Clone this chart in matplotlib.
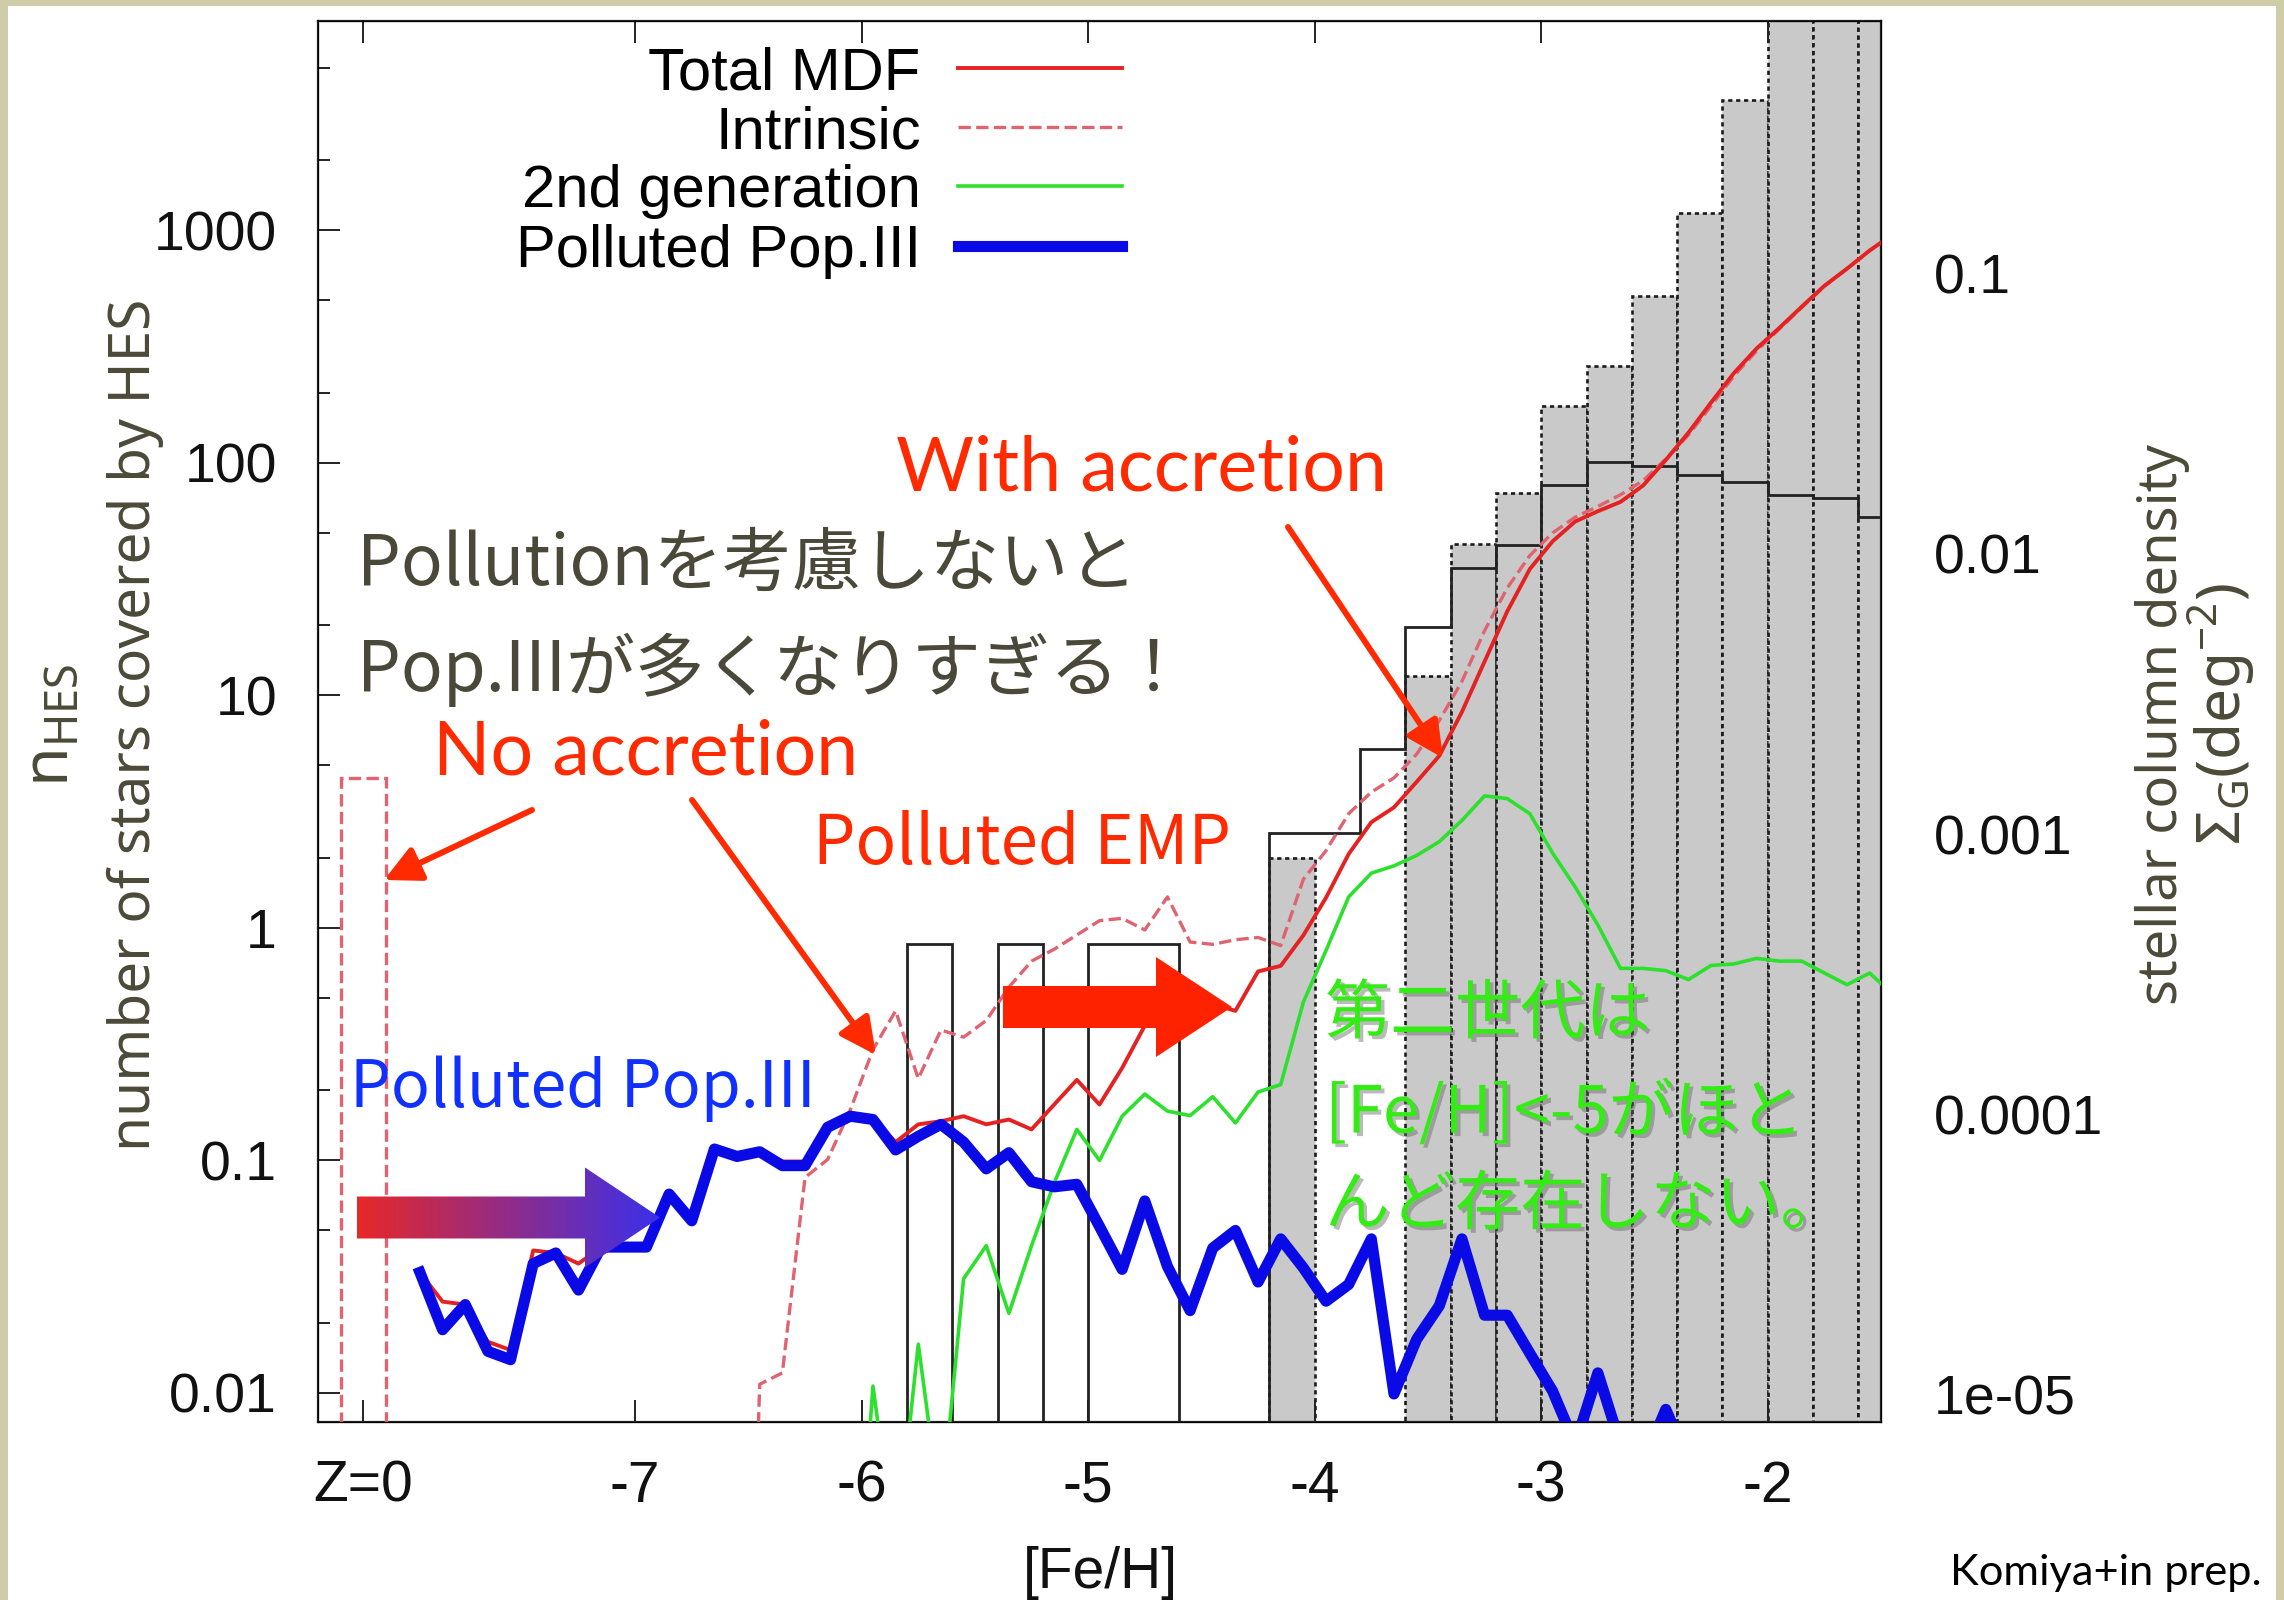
import numpy as np
import matplotlib
matplotlib.use("Agg")
import matplotlib.pyplot as plt
import matplotlib.patches as patches
import matplotlib.patheffects as pe
from matplotlib.colors import LinearSegmentedColormap
from matplotlib.ticker import LogLocator, NullFormatter, NullLocator

W, H = 2284, 1600
N = np.nan

plt.rcParams['font.family'] = ['Liberation Sans', 'Noto Sans CJK JP', 'DejaVu Sans']

# ---------------- data ----------------
# model curves, [Fe/H] bin centres
feh = [-7.95, -7.85, -7.75, -7.65, -7.55, -7.45, -7.35, -7.25, -7.15, -7.05,
       -6.95, -6.85, -6.75, -6.65, -6.55, -6.45, -6.35, -6.25, -6.15, -6.05,
       -5.95, -5.85, -5.75, -5.65, -5.55, -5.45, -5.35, -5.25, -5.15, -5.05,
       -4.95, -4.85, -4.75, -4.65, -4.55, -4.45, -4.35, -4.25, -4.15, -4.05,
       -3.95, -3.85, -3.75, -3.65, -3.55, -3.45, -3.35, -3.25, -3.15, -3.05,
       -2.95, -2.85, -2.75, -2.65, -2.55, -2.45, -2.35, -2.25, -2.15, -2.05,
       -1.95, -1.85, -1.75, -1.65, -1.55, -1.45]

total_mdf = [0.033, 0.0247, 0.024, 0.0166, 0.0153, 0.041, 0.040, 0.036, 0.0424, 0.0424,
             0.0424, 0.0717, 0.056, 0.113, 0.105, 0.111, 0.099, 0.099, 0.140, 0.156,
             0.152, 0.120, 0.143, 0.1475, 0.155, 0.143, 0.150, 0.136, 0.174, 0.222,
             0.174, 0.25, 0.38, 0.40, 0.43, 0.47, 0.44, 0.65, 0.687, 0.93,
             1.35, 2.08, 2.85, 3.3, 4.25, 5.5, 8.5, 14, 23, 35,
             46, 56, 62, 68, 80, 103, 135, 182, 243, 310,
             380, 470, 578, 685, 820, 960]

intrinsic = [N, N, N, N, N, N, N, N, N, N,
             N, N, N, N, 1e-5, 0.0109, 0.0122, 0.0845, 0.101, 0.165,
             0.30, 0.44, 0.225, 0.364, 0.339, 0.40, 0.556, 0.72, 0.81, 0.933,
             1.075, 1.10, 0.98, 1.36, 0.87, 0.85, 0.89, 0.91, 0.84, 1.62,
             2.15, 3.1, 3.84, 4.42, 5.59, 7.8, 11.5, 19, 29, 40,
             50, 58.5, 65, 73, 84, 104, 132, 176, 236, 303,
             376, 466, 575, 685, 820, 960]

second_gen = [N, N, N, N, N, N, N, N, N, N,
              N, N, N, N, N, N, N, N, N, 5e-4,
              0.0107, 0.002, 0.0162, 0.003, 0.031, 0.043, 0.022, 0.043, 0.08, 0.136,
              0.10, 0.155, 0.193, 0.163, 0.156, 0.188, 0.145, 0.197, 0.212, 0.48,
              0.80, 1.36, 1.72, 1.85, 2.05, 2.35, 2.9, 3.7, 3.6, 3.1,
              2.1, 1.5, 1.03, 0.67, 0.67, 0.655, 0.60, 0.69, 0.70, 0.74,
              0.72, 0.72, 0.64, 0.57, 0.64, 0.52]

pop3 = [0.033, 0.0187, 0.024, 0.0151, 0.0139, 0.036, 0.040, 0.0277, 0.0424, 0.0424,
        0.0424, 0.0717, 0.055, 0.112, 0.104, 0.109, 0.095, 0.095, 0.139, 0.155,
        0.150, 0.111, 0.127, 0.143, 0.120, 0.092, 0.108, 0.081, 0.077, 0.079,
        0.052, 0.034, 0.067, 0.035, 0.0226, 0.042, 0.050, 0.030, 0.046, 0.0345,
        0.0248, 0.0293, 0.046, 0.0099, 0.017, 0.0237, 0.046, 0.0216, 0.0216, 0.0148,
        0.0102, 0.006, 0.0122, 0.006, 0.005, 0.0085, 0.005, N, N, N,
        N, N, N, N, N, N]

# Z=0 bin of the intrinsic MDF
z0_edges = [-8.3, -8.1]
z0_intrinsic = [4.4]

# observed HES histogram (solid steps)
hes_edges = [-5.8, -5.6, -5.4, -5.2, -5.0, -4.8, -4.6, -4.4, -4.2, -4.0, -3.8, -3.6,
             -3.4, -3.2, -3.0, -2.8, -2.6, -2.4, -2.2, -2.0, -1.8, -1.6, -1.4]
hes_counts = [0.85, 0, 0.85, 0, 0.85, 0.85, 0, 0, 2.57, 2.57, 5.9,
              19.7, 35.2, 44.4, 80, 101, 97, 88.5, 82.8, 72.6, 70.4, 58.3]

# grey histogram (dotted boxes)
sigma_edges = [-4.2, -4.0, -3.8, -3.6, -3.4, -3.2, -3.0, -2.8, -2.6, -2.4, -2.2,
               -2.0, -1.8, -1.6, -1.4]
sigma_counts = [2.0, 0, 0, 12.1, 45, 74, 176, 261, 520, 1190, 3650, 10000, 25000, 50000]

xtick_pos = [-8.2, -7, -6, -5, -4, -3, -2]
xtick_labels = ['Z=0', '-7', '-6', '-5', '-4', '-3', '-2']
ytick_pos = [0.01, 0.1, 1, 10, 100, 1000]
ytick_labels = ['0.01', '0.1', '1', '10', '100', '1000']
y2tick_pos = [1e-5, 1e-4, 1e-3, 1e-2, 1e-1]
y2tick_labels = ['1e-05', '0.0001', '0.001', '0.01', '0.1']

# ---------------- styles ----------------
BEIGE = '#cfcca9'
RED = '#e42222'
PINK = '#e06470'
GREEN = '#2ee02e'
BLUE = '#0a0ae6'
ANN_RED = '#ff2a00'
ANN_BLUE = '#1030ff'
ANN_GREEN = '#33ec14'
DARK = '#4a4838'
LBL = '#4b4937'
JP = ['Noto Sans CJK JP', 'DejaVu Sans']

fig = plt.figure(figsize=(W / 100, H / 100), dpi=100, facecolor=BEIGE)
fig.add_artist(patches.Rectangle((8 / W, 0), (2276 - 8) / W, 1 - 6 / H,
                                 transform=fig.transFigure, facecolor='white',
                                 edgecolor='none', zorder=-5))

ax = fig.add_axes([318 / W, 1 - 1422 / H, (1881 - 318) / W, (1422 - 20.5) / H])
ax.set_yscale('log')

ax.bar(sigma_edges[:-1], sigma_counts, width=np.diff(sigma_edges), align='edge',
       color='#c9c9c9', edgecolor='#1a1a1a', linestyle=(0, (1.6, 1.4)), linewidth=1.9,
       zorder=1)
ax.stairs(hes_counts, hes_edges, color='#222222', linewidth=2.0, zorder=2)
ax.stairs(z0_intrinsic, z0_edges, color=PINK, linestyle='--', linewidth=2.4, zorder=3)

l_int, = ax.plot(feh, intrinsic, color=PINK, ls='--', lw=2.4, zorder=3)
l_2nd, = ax.plot(feh, second_gen, color=GREEN, lw=2.6, zorder=3.5)
l_tot, = ax.plot(feh, total_mdf, color=RED, lw=2.8, zorder=4)
l_p3, = ax.plot(feh, pop3, color=BLUE, lw=8, zorder=5)

ax.set_xlim(-8.4, -1.5)
ax.set_ylim(0.0075, 8000)

ax.set_xticks(xtick_pos, labels=xtick_labels)
ax.xaxis.set_minor_locator(NullLocator())
ax.set_yticks(ytick_pos, labels=ytick_labels)
ax.yaxis.set_minor_locator(LogLocator(base=10, subs=(2.0, 5.0)))
ax.yaxis.set_minor_formatter(NullFormatter())
ax.tick_params(which='both', direction='in', width=1.4, color='#222222', labelcolor='#111111')
ax.tick_params(axis='x', which='major', length=15.8, top=True, labelsize=41, pad=27)
ax.tick_params(axis='y', which='major', length=15.8, right=False, labelsize=40, pad=29.5)
ax.tick_params(axis='y', which='minor', length=8.6, right=False)
for s in ax.spines.values():
    s.set_linewidth(1.6)
    s.set_color('#222222')

ax2 = ax.twinx()
ax2.set_yscale('log')
ax2.set_ylim(8e-6, 0.8)
ax2.set_yticks(y2tick_pos, labels=y2tick_labels)
ax2.yaxis.set_minor_locator(NullLocator())
ax2.tick_params(axis='y', length=0, pad=38, labelsize=40, labelcolor='#111111')
ax.tick_params(axis='y', which='both', right=False)

# overlay in reference pixel coordinates for slide annotations
ov = fig.add_axes([0, 0, 1, 1], zorder=10)
ov.set_xlim(0, W)
ov.set_ylim(H, 0)
ov.axis('off')

ax.legend([l_tot, l_int, l_2nd, l_p3],
          ['Total MDF', 'Intrinsic', '2nd generation', 'Polluted Pop.III'],
          loc='upper right', bbox_to_anchor=(1122, 46), bbox_transform=ov.transData,
          markerfirst=False, frameon=False, fontsize=43, handlelength=2.74,
          handletextpad=0.63, labelspacing=0.07, borderpad=0, borderaxespad=0)

renderer = fig.canvas.get_renderer()


def fit_text(x, y, s, span, vertical=False, **kw):
    t = ov.text(x, y, s, fontsize=40, **kw)
    bb = t.get_window_extent(renderer=renderer)
    t.set_fontsize(40 * span / (bb.height if vertical else bb.width))
    return t


# axis labels
fit_text(135.5, 724.6, 'number of stars covered by HES', 852, vertical=True, rotation=90,
         ha='center', va='center', color=LBL, family='Noto Sans')
fit_text(51, 725, r'$\mathregular{n_{HES}}$', 124, vertical=True, rotation=90,
         ha='center', va='center', color=LBL, family='Noto Sans')
fit_text(2163, 724.6, 'stellar column density', 561, vertical=True, rotation=90,
         ha='center', va='center', color=LBL, family='Noto Sans')
fit_text(2221, 714, r'$\mathregular{\Sigma_G(deg^{-2})}$', 262, vertical=True, rotation=90,
         ha='center', va='center', color=LBL, family='Noto Sans')
ov.text(1100, 1573, '[Fe/H]', fontsize=41, ha='center', va='center', color='#111111')
fit_text(2262, 1585, 'Komiya+in prep.', 312, ha='right', va='baseline',
         family='Lato', color='black')

# slide annotations
fit_text(896, 469, 'With accretion', 491, ha='left', va='center', color=ANN_RED, family='Lato')
fit_text(433, 753, 'No accretion', 426, ha='left', va='center', color=ANN_RED, family='Lato')
fit_text(813, 845, 'Polluted EMP', 419, ha='left', va='center', color=ANN_RED, family=JP)
fit_text(350, 1089, 'Polluted Pop.III', 466, ha='left', va='center', color=ANN_BLUE, family=JP)

t = fit_text(357, 565, 'Pollutionを考慮しないと', 780, ha='left', va='center',
             color=DARK, family=JP)
ov.text(357, 670, 'Pop.IIIが多くなりすぎる！', fontsize=t.get_fontsize(), ha='left',
        va='center', color=DARK, family=JP)

shadow = [pe.withSimplePatchShadow(offset=(2.5, -2.5), shadow_rgbFace='#666666', alpha=0.45)]
t = fit_text(1325, 1015, '第二世代は', 325, ha='left', va='center', color=ANN_GREEN,
             family=JP, path_effects=shadow)
for yy, s in [(1114, '[Fe/H]<-5がほと'), (1206, 'んど存在しない。')]:
    ov.text(1325, yy, s, fontsize=t.get_fontsize(), ha='left', va='center',
            color=ANN_GREEN, family=JP, path_effects=shadow)

# thin pointer arrows
ap = dict(arrowstyle='-|>', color=ANN_RED, lw=4.3, mutation_scale=55, shrinkA=0, shrinkB=0)
ov.annotate('', xy=(1443, 758), xytext=(1288, 527), arrowprops=ap)
ov.annotate('', xy=(384, 880), xytext=(532, 810), arrowprops=ap)
ov.annotate('', xy=(876, 1055), xytext=(692, 800), arrowprops=ap)

# block arrows
ov.add_patch(patches.FancyArrow(1003, 1007, 229, 0, width=42, head_width=100, head_length=76,
                                length_includes_head=True, color='#ff2200', lw=0))
grad_arrow = patches.FancyArrow(357, 1217.5, 303, 0, width=42, head_width=100, head_length=75,
                                length_includes_head=True, fill=False, lw=0)
ov.add_patch(grad_arrow)
grad_cmap = LinearSegmentedColormap.from_list('rb', ['#e82828', '#3a30ea'])
img = ov.imshow(np.linspace(0, 1, 256)[None, :], extent=(357, 660, 1270, 1165),
                cmap=grad_cmap, aspect='auto', interpolation='bicubic')
img.set_clip_path(grad_arrow)
ov.set_xlim(0, W)
ov.set_ylim(H, 0)

fig.savefig('out.png', dpi=100, facecolor=fig.get_facecolor())
